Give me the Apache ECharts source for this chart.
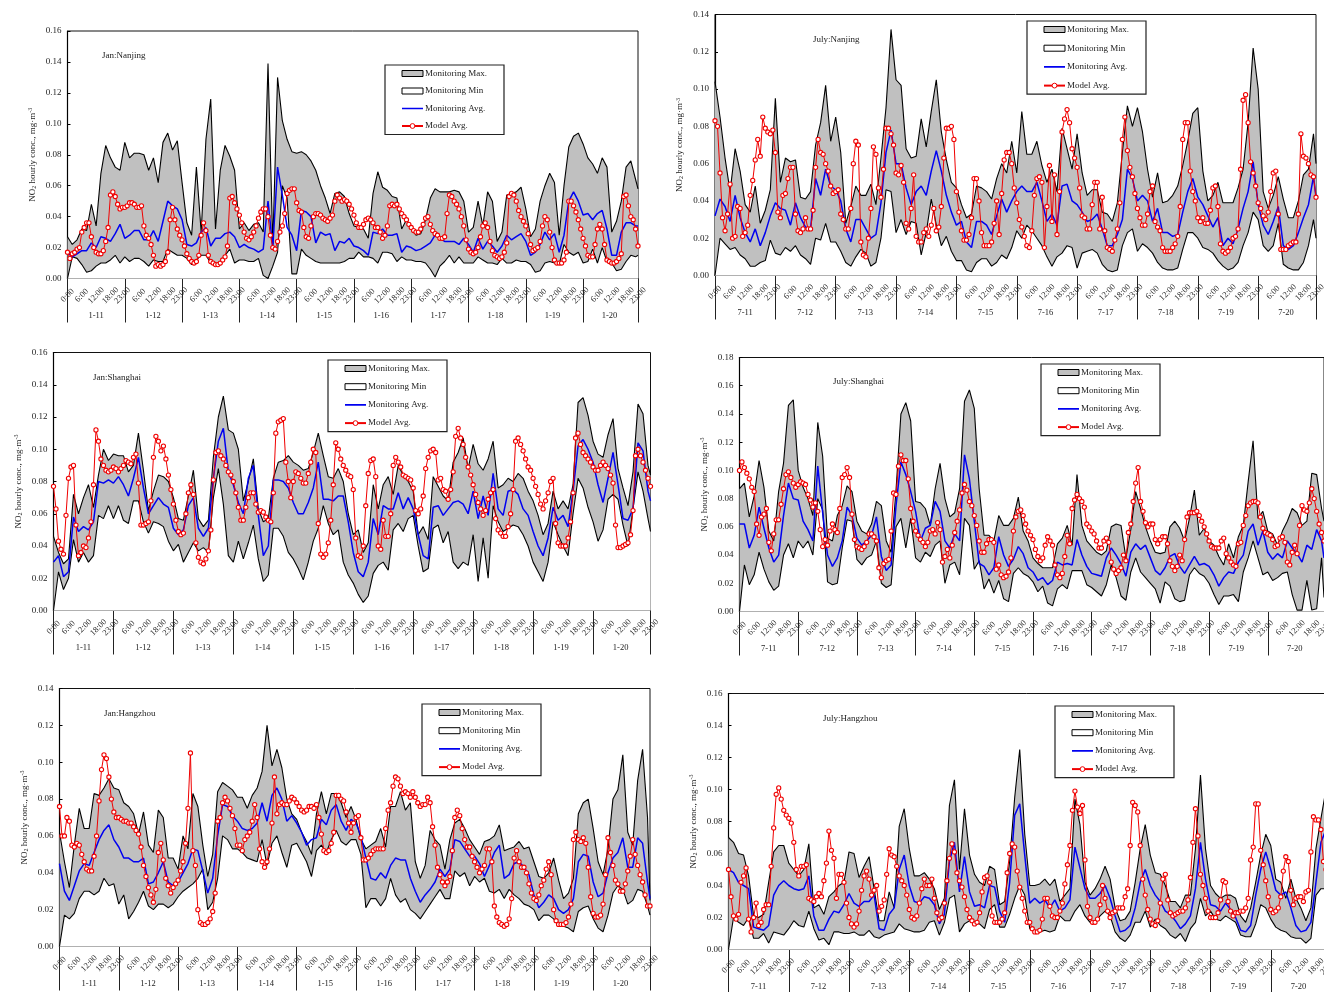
<!DOCTYPE html>
<html><head><meta charset="utf-8">
<style>html,body{margin:0;padding:0;background:#fff;overflow:hidden}#c{width:1324px;height:992px}</style>
<script src="https://cdn.jsdelivr.net/npm/echarts@6/dist/echarts.min.js"></script>
</head><body><div id="c"></div>
<script>
// values in 0.001 mg/m3. Max/Min/Avg: sampled every 2 h (12 per day) plus hour 23 of the last day. Model: hourly.
const janDays=['1-11','1-12','1-13','1-14','1-15','1-16','1-17','1-18','1-19','1-20'];
const julDays=['7-11','7-12','7-13','7-14','7-15','7-16','7-17','7-18','7-19','7-20'];

const janNanjingMax=[27,22,25,32,31,48,34,68,86,78,72,70, 88,78,81,81,80,70,78,62,88,94,83,89, 62,36,28,72,30,90,116,32,70,86,79,70, 32,36,31,35,36,30,139,22,130,102,90,82, 81,82,80,76,70,60,52,42,55,56,53,42, 34,33,32,26,55,69,59,57,53,52,32,38, 33,28,29,38,52,58,56,56,56,57,56,50, 30,33,50,34,56,50,24,30,54,55,56,59, 45,27,32,50,60,68,62,28,60,85,92,94, 87,78,74,68,78,72,30,37,50,72,76,64, 58];
const janNanjingMin=[0,14,13,9,4,5,8,10,10,12,15,10, 14,11,13,13,11,8,12,11,11,19,17,15, 15,13,9,12,15,15,10,9,10,15,19,10, 12,12,11,11,13,2,0,8,17,60,52,3, 3,19,15,13,11,10,10,10,10,10,11,13, 13,17,14,14,13,10,17,17,16,11,14,12, 12,11,11,10,6,1,8,11,15,10,14,10, 10,10,14,12,10,10,9,13,10,10,12,11, 11,9,4,5,10,11,10,9,22,17,15,17, 10,11,19,10,20,11,10,5,6,11,15,14, 15];
const janNanjingAvg=[17,14,16,18,18,23,20,27,26,24,29,35, 26,28,31,31,25,25,31,24,37,50,47,45, 38,22,21,23,30,33,21,26,26,29,30,27, 20,22,20,19,17,19,50,20,72,54,33,28, 18,44,43,40,23,30,28,29,18,24,23,26, 21,20,18,15,30,29,32,28,28,29,17,21, 20,18,19,21,23,28,26,24,24,24,22,26, 22,17,26,19,24,21,17,21,28,25,27,29, 24,15,17,22,30,25,29,17,28,50,56,50, 41,42,38,42,44,32,15,15,30,36,36,34, 34];
const janNanjingModel=[17,13,16,17,19,20,30,33,36,36,27,20,17,16,16,18,24,33,54,56,53,48,45,46,
 46,47,49,49,48,46,46,47,34,28,26,22,15,8,9,8,9,11,17,38,46,38,32,28,
 25,21,16,13,11,10,11,15,28,36,31,15,11,10,9,9,10,12,14,21,52,53,49,45,
 41,36,30,26,25,27,30,34,39,43,45,45,40,28,20,19,24,30,34,42,55,57,58,58,
 49,44,43,33,27,26,34,40,42,42,41,39,38,37,39,41,50,54,52,50,51,50,48,45,
 41,36,33,33,35,38,39,38,36,33,33,30,26,28,34,47,48,47,48,45,42,40,38,35,
 33,31,30,30,32,35,39,40,35,31,29,28,26,26,27,42,54,53,50,48,45,40,34,25,
 19,17,16,17,20,27,34,36,33,24,18,15,14,13,14,17,23,53,55,54,50,44,40,37,
 34,29,22,18,19,20,24,34,40,38,30,20,12,10,10,10,12,17,50,50,47,43,38,32,
 26,21,15,14,14,22,32,35,32,22,12,11,10,10,11,13,16,53,54,47,40,38,32,21];

const julNanjingMax=[104,85,63,45,68,56,38,34,48,28,35,46, 95,50,63,61,62,42,41,45,70,82,102,72, 85,66,28,37,48,43,43,49,38,63,90,132, 105,102,68,63,64,84,69,88,105,77,62,50, 47,38,31,33,48,47,45,41,52,60,55,72, 55,88,65,65,72,59,50,57,45,79,68,57, 76,55,43,46,46,34,33,29,39,66,91,80, 90,77,57,42,55,39,40,43,48,59,72,87, 90,56,40,43,50,39,39,39,47,57,82,122, 100,45,36,43,53,41,31,31,40,54,57,76, 60];
const julNanjingMin=[0,20,17,14,15,11,9,5,5,7,8,19, 12,11,15,13,16,11,9,6,20,19,28,18, 18,13,7,5,10,14,12,5,7,20,46,45, 23,30,22,29,28,11,23,41,27,16,21,13, 8,8,3,2,7,9,9,5,7,11,9,15, 24,20,27,24,20,16,10,5,10,12,16,15, 4,12,13,14,12,6,3,2,3,16,23,25, 13,17,15,12,7,4,3,3,4,14,23,23, 20,15,14,12,8,5,3,4,7,16,23,34, 30,16,13,16,28,6,4,3,3,7,16,30, 20];
const julNanjingAvg=[32,41,37,29,43,31,23,18,25,16,23,32, 39,36,35,27,39,31,26,25,52,43,57,48, 46,40,25,18,30,30,25,20,22,39,66,78, 60,60,47,38,45,48,43,56,67,56,43,34, 27,29,18,15,29,29,27,22,32,41,34,40, 45,48,45,45,50,40,29,33,27,48,49,40, 38,34,29,30,33,25,16,16,22,30,57,52, 40,43,40,29,36,23,23,21,22,34,45,52, 42,38,32,26,31,16,20,17,25,36,45,61, 38,27,22,29,37,16,14,16,23,31,38,53, 42];
const julNanjingModel=[83,80,55,31,24,33,49,20,21,37,36,21,23,27,43,51,62,73,64,85,79,77,76,78,
 66,34,31,43,44,52,58,58,33,24,23,25,31,25,25,35,58,73,66,65,60,56,48,44,
 45,46,33,30,25,25,36,60,72,70,18,11,10,20,36,69,65,47,42,57,79,79,76,70,
 55,54,59,50,28,25,36,54,21,18,18,23,25,21,27,36,24,26,37,63,79,79,80,73,
 45,34,24,19,19,22,31,52,52,40,23,16,16,16,18,28,40,22,44,62,66,66,60,47,
 39,30,26,21,16,15,24,43,52,53,50,15,37,59,29,54,22,45,77,84,89,82,68,63,
 58,47,32,31,25,25,38,50,50,25,42,24,15,14,13,19,25,39,73,85,67,58,53,44,
 36,31,27,27,33,45,48,29,26,24,15,13,13,13,15,17,21,37,73,82,82,56,45,40,
 31,29,31,28,28,35,47,48,37,17,13,12,13,15,20,21,25,57,94,97,82,61,55,48,
 39,36,32,30,34,45,55,56,33,14,14,14,16,17,18,18,33,76,64,63,60,54,53,42];

const janShanghaiMax=[46,36,29,32,72,60,70,78,64,84,100,93, 97,96,96,86,90,110,87,62,74,84,83,80, 70,57,56,71,87,57,52,56,95,120,133,112, 110,100,68,80,94,63,55,57,82,92,93,96, 92,90,87,88,98,110,96,83,82,88,80,60, 47,50,36,42,78,63,78,83,72,90,84,80, 74,47,52,44,83,77,71,68,92,98,107,88, 103,91,87,94,105,76,78,82,80,85,82,74, 68,59,47,54,74,63,68,63,78,129,132,121, 105,97,95,109,119,88,76,65,86,128,122,90, 84];
const janShanghaiMin=[0,24,13,20,44,30,36,30,34,59,57,65, 57,65,56,54,68,68,55,48,55,54,52,43, 37,41,30,36,42,37,39,36,70,88,66,34, 30,43,32,42,53,32,18,22,51,51,46,36, 32,26,19,30,43,51,65,54,47,50,30,22, 17,10,5,9,23,28,30,25,50,54,49,57, 59,40,24,26,51,53,42,49,30,26,30,28, 47,18,45,20,65,55,49,51,53,52,47,40, 30,24,18,30,55,47,40,34,60,82,76,64, 55,43,50,69,72,69,53,40,63,86,74,57, 49];
const janShanghaiAvg=[30,34,21,24,58,49,52,50,55,80,79,81, 79,83,78,71,82,95,76,60,65,70,66,64, 51,47,50,65,70,51,46,51,82,105,113,86, 78,67,60,82,90,59,34,40,81,81,80,76, 67,60,60,67,76,92,69,69,68,71,71,55, 36,24,21,30,57,47,65,63,63,73,63,70, 63,47,34,32,64,65,59,63,67,68,66,60, 74,57,71,59,85,63,59,74,75,72,63,59, 49,40,34,45,64,56,59,52,74,102,106,100, 92,78,67,82,98,78,57,56,63,104,99,74, 68];
const janShanghaiModel=[77,63,43,38,35,59,82,89,90,53,34,36,40,39,45,55,78,112,105,94,90,87,86,87,
 89,88,86,88,90,93,92,91,95,97,79,53,53,54,55,68,95,108,105,99,102,94,84,75,
 66,56,49,47,48,60,73,78,72,42,33,30,29,32,37,50,81,98,99,96,94,90,86,84,
 80,73,64,56,56,64,70,73,73,66,61,62,61,58,56,55,73,110,117,118,119,92,80,70,
 80,86,85,82,79,79,85,92,100,98,54,35,33,35,42,56,78,104,100,94,90,87,84,83,
 75,45,34,33,40,65,85,93,94,83,40,38,56,46,46,60,90,95,92,89,84,83,82,81,
 76,62,60,63,71,88,95,99,100,98,81,82,75,74,69,75,86,108,113,107,103,95,89,84,
 78,72,67,63,59,62,69,73,75,57,50,48,46,46,52,60,75,105,107,103,99,94,89,87,
 82,77,72,66,63,68,73,80,82,54,42,40,40,40,45,55,73,107,110,103,98,96,94,92,
 89,87,87,90,92,90,88,84,79,53,39,39,40,41,42,47,62,96,100,96,92,87,82,77];

const julShanghaiMax=[87,91,67,82,107,88,57,50,85,105,146,150, 100,88,80,68,134,110,52,50,68,75,89,85, 64,57,55,62,78,75,50,42,86,140,148,135, 78,77,73,61,87,105,80,67,70,87,149,157, 144,87,54,54,50,68,61,61,66,81,57,50, 38,34,31,31,31,48,52,61,47,97,61,50, 46,42,40,43,60,62,61,38,58,85,73,60, 50,42,41,42,60,64,59,50,66,86,54,59, 50,47,39,33,48,38,53,61,92,121,66,71, 57,55,47,57,64,73,70,61,64,98,97,73, 64];
const julShanghaiMin=[0,33,19,26,42,30,21,15,18,40,48,38, 50,45,50,40,80,72,21,19,20,45,65,64, 37,33,38,40,50,20,17,19,60,66,45,66, 38,35,42,39,47,50,20,33,35,26,66,61, 30,36,16,23,13,22,9,7,27,31,27,25, 21,14,18,6,4,16,19,16,29,29,29,19, 17,14,11,19,33,24,11,8,28,38,28,24, 20,16,6,21,18,9,7,8,26,31,27,25, 20,12,5,11,11,12,7,28,38,50,38,26, 28,22,24,27,28,12,1,1,22,1,2,38, 10];
const julShanghaiAvg=[62,62,45,54,74,59,45,35,40,68,91,80, 79,64,58,50,103,70,40,32,38,50,74,68, 52,47,50,54,67,39,29,33,75,106,97,85, 71,50,59,61,78,71,50,45,55,50,111,94, 64,34,32,26,31,53,40,32,37,46,41,31, 28,22,24,19,22,35,33,34,33,51,40,32, 27,26,25,38,45,40,34,25,42,48,44,47, 38,29,26,31,39,41,32,27,33,39,33,34, 32,26,18,24,28,27,35,40,57,62,47,57, 42,37,41,38,50,45,41,35,47,44,58,50, 38];
const julShanghaiModel=[100,106,102,98,94,88,85,62,54,67,69,73,49,43,55,65,65,76,87,97,99,95,91,88,
 90,92,91,90,83,79,74,77,71,58,46,51,47,57,62,58,56,73,95,97,102,95,69,51,
 46,45,44,46,49,55,55,53,50,31,24,34,36,37,57,84,83,103,111,107,107,94,73,64,
 57,54,51,49,46,49,57,58,55,63,58,35,39,44,38,47,56,64,72,84,90,86,78,75,
 68,61,50,42,42,48,51,51,49,30,33,26,24,25,28,38,57,67,71,72,68,62,57,54,
 51,44,39,36,38,47,53,50,47,33,26,24,27,39,54,48,73,79,83,80,78,74,62,60,
 57,55,50,45,45,50,52,49,35,30,27,29,31,40,36,56,62,78,91,102,78,71,63,60,
 62,62,51,48,51,53,53,48,36,32,29,32,40,36,51,67,70,70,70,71,68,64,60,55,
 50,46,45,45,45,50,52,41,38,35,33,32,48,49,61,68,75,77,78,78,77,67,59,56,
 55,54,51,46,47,52,53,49,35,33,42,47,41,61,75,72,71,77,87,80,71,62,56,50];

const janHangzhouMax=[62,46,32,55,75,64,64,83,82,86,91,86, 85,78,76,72,61,73,55,51,74,70,48,48, 42,60,53,83,76,55,38,50,84,89,87,85, 81,81,75,82,86,95,120,98,107,97,80,72, 69,62,57,50,72,84,72,83,83,78,70,76, 69,58,53,55,57,64,54,76,76,84,74,78, 46,37,44,63,58,55,42,58,67,69,64,58, 54,50,57,58,60,66,52,53,54,57,53,54, 46,38,37,40,48,36,26,29,37,72,78,80, 64,46,39,53,80,85,104,62,55,90,107,70, 25];
const janHangzhouMin=[0,17,15,18,26,30,30,28,30,37,33,34, 23,28,15,19,24,30,22,20,23,23,21,23, 27,30,32,34,37,42,20,24,37,60,58,53, 53,51,48,47,46,58,44,56,60,51,43,55, 56,51,46,38,52,55,51,58,63,57,55,58, 58,50,21,26,26,22,26,37,28,24,26,20, 18,15,19,23,27,31,26,26,41,38,40,33, 38,35,37,30,29,31,26,31,28,26,23,22, 20,14,17,17,15,11,11,10,8,19,21,22, 15,10,8,17,29,33,31,23,25,31,30,22, 17];
const janHangzhouAvg=[45,30,25,33,41,45,44,51,58,63,66,58, 54,48,48,46,46,48,34,35,40,46,35,33, 35,40,45,53,52,41,29,37,60,77,76,71, 68,64,63,64,67,78,68,82,86,80,68,71, 67,62,55,58,59,69,66,74,77,68,63,69, 67,60,48,37,36,40,37,44,48,47,47,37, 30,24,28,31,35,42,38,42,58,57,53,49, 49,45,38,44,51,55,37,39,45,46,43,39, 28,21,24,28,26,20,18,20,26,46,50,49, 35,27,29,40,48,51,59,43,43,59,56,35, 26];
const janHangzhouModel=[76,60,60,70,68,55,54,56,55,50,46,42,41,41,49,60,79,96,104,102,92,80,73,70,
 70,69,68,68,67,67,65,63,61,54,44,38,32,28,24,31,51,56,47,37,33,29,32,34,
 36,41,46,56,75,105,52,44,20,13,12,12,13,15,19,29,68,70,78,81,79,75,71,64,
 55,55,52,58,60,62,68,77,70,53,46,43,46,53,67,92,72,77,78,77,77,79,81,80,
 78,76,74,73,74,76,76,75,77,70,61,52,51,52,56,62,82,82,80,79,73,67,62,67,
 70,71,59,47,47,48,50,52,53,53,53,53,64,74,78,87,92,91,87,83,84,83,81,84,
 81,78,76,77,77,81,78,65,55,43,39,35,33,35,38,52,70,74,71,64,58,54,54,49,
 46,43,40,42,44,53,53,46,22,16,13,12,11,12,15,26,48,52,46,43,43,40,34,29,
 26,25,28,33,36,42,46,39,20,14,12,12,12,13,16,23,58,62,58,57,59,56,43,27,
 18,16,16,17,23,39,59,51,44,36,34,30,30,34,41,49,58,50,44,39,35,28,22,22];

const julHangzhouMax=[70,67,60,59,46,21,20,22,42,61,65,65, 54,50,46,50,66,26,28,22,33,36,40,42, 61,60,45,52,58,38,18,18,36,26,77,88, 63,46,46,48,44,38,25,32,90,106,50,88, 59,47,42,40,52,50,28,30,55,95,125,72, 40,40,41,44,40,44,30,34,38,94,78,42, 34,38,44,52,44,26,18,19,24,42,63,78, 59,48,47,40,30,30,26,34,34,63,109,63, 40,35,32,34,34,32,21,17,26,42,59,72, 65,44,42,32,44,32,26,18,26,63,82,100, 50];
const julHangzhouMin=[0,20,17,15,20,7,7,10,4,11,10,9, 13,18,15,14,24,13,6,7,3,11,11,10, 10,11,9,9,12,8,7,9,10,11,16,13, 12,11,11,12,17,18,9,17,32,34,11,16, 18,17,16,13,25,28,14,14,22,32,40,34, 13,12,11,12,11,12,21,18,18,24,28,21, 17,17,21,24,21,11,7,5,9,17,17,24, 14,19,15,13,9,7,10,5,13,17,32,21, 24,19,18,21,19,17,9,8,8,16,28,26, 19,14,12,11,8,7,7,4,7,34,38,38, 35];
const julHangzhouAvg=[50,48,42,40,38,14,13,12,15,34,40,43, 40,38,37,38,46,21,12,12,19,24,23,28, 35,29,27,30,30,34,13,12,22,26,50,59, 40,30,29,33,32,28,16,22,55,67,36,58, 36,27,28,26,40,39,24,17,42,84,91,59, 29,32,29,31,26,31,24,26,31,64,51,38, 32,32,35,40,32,21,11,12,15,26,42,50, 40,34,30,24,22,18,13,16,21,38,67,44, 28,27,24,29,25,20,12,11,15,34,50,61, 50,37,34,36,26,15,11,12,17,42,67,75, 50];
const julHangzhouModel=[50,33,21,19,22,42,46,51,19,11,20,29,15,17,25,28,28,52,76,97,101,94,87,84,
 82,79,67,50,46,52,52,53,32,31,30,33,35,33,43,54,74,62,57,32,47,47,42,29,
 20,16,14,16,24,37,46,49,44,34,37,40,24,27,31,47,63,59,58,52,46,43,40,34,
 25,20,19,21,29,38,44,40,40,44,32,23,19,20,29,43,57,66,61,48,43,39,33,25,
 20,18,16,17,23,36,45,46,42,21,17,17,17,19,23,48,60,66,64,49,39,32,24,17,
 17,13,11,11,12,19,32,32,27,21,20,20,24,29,41,53,65,87,99,89,85,90,56,27,
 20,17,17,19,28,40,32,24,20,23,24,26,26,26,33,38,65,92,90,86,65,44,34,25,
 19,16,15,18,29,44,47,31,23,21,22,23,24,24,26,31,45,67,88,71,47,40,32,24,
 20,20,20,23,31,43,42,30,24,21,23,23,24,24,26,32,56,64,91,91,62,53,43,33,
 25,23,24,26,33,49,58,55,37,28,32,33,33,30,36,37,61,83,81,81,75,55,50,40];

const yMaxes=[0.16,0.14,0.16,0.18,0.14,0.16];
const panelNames=['Jan:Nanjing','July:Nanjing','Jan:Shanghai','July:Shanghai','Jan:Hangzhou','July:Hangzhou'];
const seriesNames=['Monitoring Max.','Monitoring Min','Monitoring Avg.','Model Avg.'];
const panelData=[
 [janNanjingMax,janNanjingMin,janNanjingAvg,janNanjingModel],
 [julNanjingMax,julNanjingMin,julNanjingAvg,julNanjingModel],
 [janShanghaiMax,janShanghaiMin,janShanghaiAvg,janShanghaiModel],
 [julShanghaiMax,julShanghaiMin,julShanghaiAvg,julShanghaiModel],
 [janHangzhouMax,janHangzhouMin,janHangzhouAvg,janHangzhouModel],
 [julHangzhouMax,julHangzhouMin,julHangzhouAvg,julHangzhouModel]];
const panelDays=[janDays,julDays,janDays,julDays,janDays,julDays];

// layout (pixels)
const layout=[
 {l:67.5,t:31,w:570.5,h:247.5,  tx:102,ty:51, lg:[385,65],  gap:8.5},
 {l:715,t:14.5,w:601,h:261,     tx:813,ty:35, lg:[1027,21], gap:9.7},
 {l:53.5,t:352.5,w:597,h:258,   tx:93,ty:373, lg:[328,360], gap:9.2},
 {l:739.5,t:357.5,w:584.5,h:254,tx:833,ty:377,lg:[1041,364],gap:9.2},
 {l:59.5,t:688.5,w:590.5,h:258, tx:104,ty:709,lg:[422,704], gap:9.2},
 {l:728.5,t:693.5,w:600,h:256,  tx:823,ty:714,lg:[1055,706],gap:9.2}];

const FONT='"Liberation Serif","Times New Roman",serif';
const TXT='#222';
const hourLabels=[];
for(let i=0;i<240;i++){hourLabels.push((i%24)+':00');}
const tickShow=i=>i%24===0||i===239;
const labelShow=i=>{const h=i%24;return i!==239&&(i===0||h===6||h===12||h===18||h===23);};
const lastLabelShow=i=>i===239;
const toPairs=a=>a.map((v,i)=>[a.length===240?i:(i===a.length-1?239:i*2),v/1000]);
const LINE_ICON='path://M0 37H100V63H0Z M0 0H0.01V0.01H0Z M0 100H0.01V99.99H0Z';

const hourLabelStyle={rotate:45,align:'center',verticalAlign:'middle',fontFamily:FONT,fontSize:8.5,color:TXT,margin:17,hideOverlap:false};
const option={animation:false,backgroundColor:'#fff',grid:[],xAxis:[],yAxis:[],series:[],legend:[],title:[]};
layout.forEach((p,k)=>{
  option.grid.push({left:p.l,top:p.t,width:p.w,height:p.h,show:true,borderColor:'#111',borderWidth:1,backgroundColor:'#fff',outerBoundsMode:'none'});
  option.xAxis.push({type:'category',gridIndex:k,data:hourLabels,boundaryGap:false,position:'bottom',
    axisLine:{lineStyle:{color:'#000',width:1.2}},
    axisTick:{show:true,interval:tickShow,length:44,lineStyle:{color:'#222',width:1}},
    axisLabel:Object.assign({interval:labelShow},hourLabelStyle),
    splitLine:{show:false}});
  option.xAxis.push({type:'category',gridIndex:k,data:panelDays[k],position:'bottom',offset:25,
    axisLine:{show:false},axisTick:{show:false},
    axisLabel:{interval:0,fontFamily:FONT,fontSize:8.5,color:TXT,margin:8},splitLine:{show:false}});
  option.xAxis.push({type:'category',gridIndex:k,data:hourLabels,boundaryGap:false,position:'bottom',
    axisLine:{show:false},axisTick:{show:false},
    axisLabel:Object.assign({interval:lastLabelShow},hourLabelStyle),
    splitLine:{show:false}});
  option.yAxis.push({type:'value',gridIndex:k,min:0,max:yMaxes[k],interval:0.02,
    axisLine:{show:true,lineStyle:{color:'#000',width:1.2}},
    axisTick:{show:true,inside:true,length:3,lineStyle:{color:'#000'}},
    axisLabel:{fontFamily:FONT,fontSize:9,color:TXT,margin:6,formatter:v=>v.toFixed(2)},
    splitLine:{show:false},
    name:'NO{s|2} hourly conc., mg·m{u|-3}',nameLocation:'middle',nameGap:30,
    nameTextStyle:{fontFamily:FONT,fontSize:9,color:TXT,rich:{s:{fontFamily:FONT,fontSize:6,color:TXT,padding:[3,0,0,0]},u:{fontFamily:FONT,fontSize:6,color:TXT,padding:[0,0,4,0]}}}});
  const d=panelData[k];
  const xi=k*3;
  option.series.push({name:seriesNames[0],type:'line',xAxisIndex:xi,yAxisIndex:k,data:toPairs(d[0]),symbol:'none',z:2,
    lineStyle:{color:'#000',width:1.1},areaStyle:{color:'#c0c0c0',opacity:1},itemStyle:{color:'#c0c0c0'}});
  option.series.push({name:seriesNames[1],type:'line',xAxisIndex:xi,yAxisIndex:k,data:toPairs(d[1]),symbol:'none',z:3,
    lineStyle:{color:'#000',width:1.1},areaStyle:{color:'#fff',opacity:1},itemStyle:{color:'#fff'}});
  option.series.push({name:seriesNames[2],type:'line',xAxisIndex:xi,yAxisIndex:k,data:toPairs(d[2]),symbol:'none',z:4,
    lineStyle:{color:'#0000f0',width:1.5},itemStyle:{color:'#0000f0'}});
  option.series.push({name:seriesNames[3],type:'line',xAxisIndex:xi,yAxisIndex:k,data:toPairs(d[3]),symbol:'circle',symbolSize:4.2,showAllSymbol:true,z:5,
    lineStyle:{color:'#f00000',width:1},itemStyle:{color:'#fff',borderColor:'#f00000',borderWidth:1.1}});
  option.title.push({text:panelNames[k],left:p.tx,top:p.ty,padding:0,textStyle:{fontFamily:FONT,fontSize:9,fontWeight:'normal',color:TXT}});
  option.legend.push({orient:'vertical',left:p.lg[0],top:p.lg[1],padding:[4,17,4,16],itemWidth:21,itemHeight:6,itemGap:p.gap,
    selectedMode:false,symbolKeepAspect:false,backgroundColor:'#fff',borderColor:'#222',borderWidth:1.2,z:10,
    textStyle:{fontFamily:FONT,fontSize:9,color:TXT,padding:[0,0,0,-3]},
    data:[{name:seriesNames[0],icon:'rect',itemStyle:{color:'#c0c0c0',borderColor:'#000',borderWidth:1}},
          {name:seriesNames[1],icon:'rect',itemStyle:{color:'#fff',borderColor:'#000',borderWidth:1}},
          {name:seriesNames[2],icon:LINE_ICON,itemStyle:{color:'#0000f0',borderWidth:0}},
          {name:seriesNames[3],itemStyle:{color:'#fff',borderColor:'#f00000',borderWidth:1}}]});
});
echarts.init(document.getElementById('c'),null,{renderer:'canvas'}).setOption(option);
</script></body></html>
